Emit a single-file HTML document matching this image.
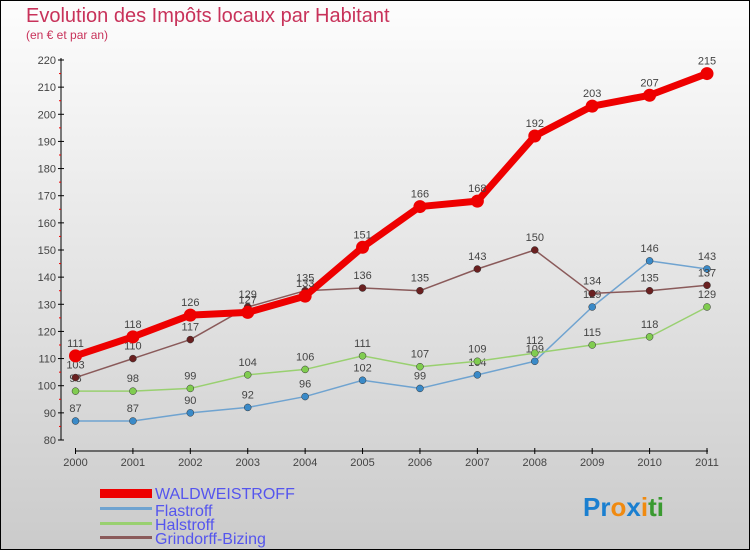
<!DOCTYPE html>
<html><head><meta charset="utf-8"><style>
body{margin:0;width:750px;height:550px;overflow:hidden;font-family:"Liberation Sans",sans-serif}
#wrap{position:absolute;left:0;top:0;width:748px;height:548px;border:1px solid #000;background:linear-gradient(#fdfdfd,#cbcbcb)}
</style></head><body>
<div id="wrap"></div>
<svg id="chart" width="750" height="550" style="position:absolute;left:0;top:0">
<text x="26" y="22" font-size="20" fill="#c8325a">Evolution des Impôts locaux par Habitant</text>
<text x="26" y="39" font-size="12" fill="#c8325a">(en € et par an)</text>
<g id="axes"></g><g id="series"></g>
<g font-size="16" fill="#5555ee">
<rect x="100" y="489" width="52" height="9" fill="#e00"/>
<text x="155" y="499">WALDWEISTROFF</text>
<rect x="100" y="507" width="52" height="3" fill="#6fa3d0"/>
<text x="155" y="516">Flastroff</text>
<rect x="100" y="522" width="52" height="3" fill="#99d070"/>
<text x="155" y="530">Halstroff</text>
<rect x="100" y="536" width="52" height="3" fill="#8a5a5a"/>
<text x="155" y="544">Grindorff-Bizing</text>
</g>
<text x="583" y="516" font-size="26" font-weight="bold"><tspan fill="#1a7fd0">Pr</tspan><tspan fill="#f08a10">o</tspan><tspan fill="#1a7fd0">x</tspan><tspan fill="#f08a10">i</tspan><tspan fill="#3a9a30">ti</tspan></text>
</svg>
<script>
const years=[2000,2001,2002,2003,2004,2005,2006,2007,2008,2009,2010,2011];
const wald=[111,118,126,127,133,151,166,168,192,203,207,215];
const flas=[87,87,90,92,96,102,99,104,109,129,146,143];
const hals=[98,98,99,104,106,111,107,109,112,115,118,129];
const grin=[103,110,117,129,135,136,135,143,150,134,135,137];
const yTicks=[80,90,100,110,120,130,140,150,160,170,180,190,200,210,220];
const NS="http://www.w3.org/2000/svg";
const X=i=>75.5+i*(707-75.5)/(years.length-1);
const Y=v=>440-(v-80)*(380/140);
function mk(t,a,p){const e=document.createElementNS(NS,t);for(const k in a)e.setAttribute(k,a[k]);p.appendChild(e);return e;}
const ax=document.getElementById('axes');
let l=mk('line',{x1:61,y1:58,x2:61,y2:440,stroke:'#000','stroke-width':1},ax);


l=mk('line',{x1:75,y1:451,x2:708,y2:451,stroke:'#000','stroke-width':1},ax);


yTicks.forEach(v=>{
 mk('line',{x1:58,x2:64,y1:Y(v),y2:Y(v),stroke:'#000'},ax);
 if(v<220)mk('line',{x1:59,x2:61,y1:Y(v+5),y2:Y(v+5),stroke:'#e00'},ax);
 const t=mk('text',{x:56,y:Y(v)+4,'text-anchor':'end','font-size':11,fill:'#444'},ax);
 
 
 t.textContent=v;
});
years.forEach((y,i)=>{
 mk('line',{x1:X(i),x2:X(i),y1:448,y2:454,stroke:'#000'},ax);
 const t=mk('text',{x:X(i),y:466,'text-anchor':'middle','font-size':11,fill:'#444'},ax);
 
 
 t.textContent=y;
});
const sg=document.getElementById('series');
function draw(d,name,col,w,r,dot){
 const g=mk('g',{},sg);
 
 
 const p=mk('polyline',{points:d.map((v,i)=>X(i)+','+Y(v)).join(' '),fill:'none',stroke:col,'stroke-width':w,'stroke-linejoin':'round'},g);
 
 
 d.forEach((v,i)=>{
  const c=mk('circle',{cx:X(i),cy:Y(v),r:r,fill:dot,stroke:'#333','stroke-width':w>3?0:0.5},g);
  
  
  const t=mk('text',{x:X(i),y:Y(v)-9,'text-anchor':'middle','font-size':11,fill:'#444'},g);
  
  
  t.textContent=v;
 });
}
draw(flas,'flastroff','#6fa3d0',1.5,3.5,'#3a8ac8');
draw(hals,'halstroff','#99d070',1.5,3.5,'#80cc50');
draw(grin,'grindorff-bizing','#8a5a5a',1.5,3.5,'#6a2020');
draw(wald,'waldweistroff','#ee0000',7,6.5,'#ee0000');
</script>
</body></html>
